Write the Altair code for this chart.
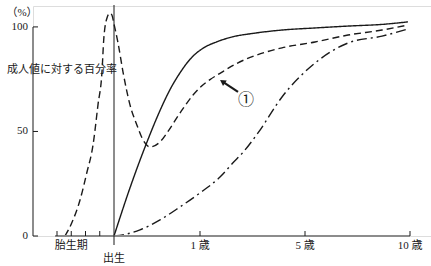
import altair as alt
import pandas as pd

# ---- data (age in years; prenatal period negative) ----
solid_x = [0, 0.19, 0.384, 0.535, 0.651, 0.767, 0.884, 1.114, 1.648, 2.257, 3.02, 4.124, 5.476, 7.048, 8.667, 9.905]
solid_y = [0, 23.5, 45, 60, 70, 78, 84.5, 89.8, 92.9, 95.3, 96.9, 98.5, 99.5, 100.4, 101.2, 102.4]

dash_x = [-0.86, -0.742, -0.596, -0.479, -0.368, -0.281, -0.211, -0.18, -0.123, -0.07, -0.035, 0.0,
          0.047, 0.105, 0.186, 0.267, 0.326, 0.419, 0.535, 0.616, 0.767, 0.919, 1.0, 1.381, 1.762,
          2.41, 3.171, 4.124, 5.476, 7.048, 8.667, 9.905]
dash_y = [0, 6.2, 17.2, 30, 43.5, 62.7, 78.4, 94, 104.3, 106.6, 105.6, 101.4,
          92.3, 78.4, 62.7, 53, 46.9, 42.6, 45, 49.3, 58.8, 67.4, 71, 74.8, 77.8,
          82.6, 86.6, 90, 92.8, 96.1, 98.5, 100.9]

dd_x = [0, 0.14, 0.302, 0.535, 0.767, 1.0, 1.762, 2.257, 2.638, 3.21, 4.124, 5.476, 7.048, 8.667, 9.905]
dd_y = [0, 0.9, 2.9, 7.7, 13.9, 20.6, 28.2, 35, 40, 49.3, 66.5, 82.7, 92.3, 95.6, 99]

y_ticks = [0, 50, 100]
y_tick_labels = ["0", "50", "100"]
x_ticks = [-1, -0.75, -0.5, -0.25, 1, 5, 10]
x_labels = ["胎生期", "1 歳", "5 歳", "10 歳"]
x_label_pos = [-0.75, 1, 5, 10]
birth_label = "出生"
y_title = "成人値に対する百分率"
unit_label = "（%）"
marker_label = "①"
arrow_tail = (2.448, 68.9)
arrow_head = (1.857, 73.8)
marker_pos = (2.75, 64.9)

FONT = "Liberation Serif, Noto Sans CJK JP"
INK = "#1a1a1a"
GRAY = "#8c8c8c"

xs = alt.Scale(domain=[-1, 0, 1, 5, 10], range=[24, 81, 167, 272, 377], zero=False, nice=False)
ys = alt.Scale(domain=[0, 110], zero=False, nice=False)

def X(f):
    return alt.X(f, type="quantitative", scale=xs, axis=None)

def Y(f):
    return alt.Y(f, type="quantitative", scale=ys, axis=None)

layers = []

styles = [(solid_x, solid_y, [1, 0]), (dash_x, dash_y, [7, 4]), (dd_x, dd_y, [10, 4, 2, 4])]
for sx, sy, dash in styles:
    df = pd.DataFrame({"x": sx, "y": sy})
    layers.append(
        alt.Chart(df).mark_line(color=INK, strokeWidth=1.4, strokeDash=dash, interpolate="monotone")
        .encode(x=X("x"), y=Y("y"))
    )

# y axis line
layers.append(
    alt.Chart(pd.DataFrame({"a": [0], "b": [100]})).mark_rule(color=GRAY, strokeWidth=2)
    .encode(x=alt.value(0), y=Y("a"), y2="b")
)
# y ticks (inward)
ydf = pd.DataFrame({"v": y_ticks, "t": y_tick_labels})
layers.append(
    alt.Chart(ydf).mark_rule(color=INK, strokeWidth=1)
    .encode(x=alt.value(0), x2=alt.value(5), y=Y("v"))
)
layers.append(
    alt.Chart(ydf).mark_text(font=FONT, fontSize=11, align="right", baseline="middle", color=INK)
    .encode(x=alt.value(-5), y=Y("v"), text="t:N")
)
# x axis line
layers.append(
    alt.Chart(pd.DataFrame({"a": [-1.035], "b": [10], "y": [0]})).mark_rule(color=GRAY, strokeWidth=2)
    .encode(x=X("a"), x2="b", y=Y("y"))
)
# x ticks (inward)
layers.append(
    alt.Chart(pd.DataFrame({"v": x_ticks})).mark_rule(color=INK, strokeWidth=1)
    .encode(x=X("v"), y=alt.value(230), y2=alt.value(225))
)
# x labels
layers.append(
    alt.Chart(pd.DataFrame({"v": x_label_pos, "t": x_labels}))
    .mark_text(font=FONT, fontSize=11, align="center", baseline="middle", color=INK)
    .encode(x=X("v"), y=alt.value(240), text="t:N")
)
# birth line
layers.append(
    alt.Chart(pd.DataFrame({"v": [0], "t": [birth_label]})).mark_rule(color=INK, strokeWidth=1)
    .encode(x=X("v"), y=alt.value(-1), y2=alt.value(239))
)
layers.append(
    alt.Chart(pd.DataFrame({"v": [0], "t": [birth_label]}))
    .mark_text(font=FONT, fontSize=11, align="center", baseline="middle", color=INK)
    .encode(x=X("v"), y=alt.value(252.5), text="t:N")
)
# titles
layers.append(
    alt.Chart(pd.DataFrame({"t": [unit_label]}))
    .mark_text(font=FONT, fontSize=11, align="center", baseline="middle", color=INK)
    .encode(x=alt.value(-11), y=alt.value(7), text="t:N")
)
layers.append(
    alt.Chart(pd.DataFrame({"t": [y_title]}))
    .mark_text(font=FONT, fontSize=11, align="left", baseline="middle", color=INK)
    .encode(x=alt.value(-26), y=alt.value(64), text="t:N")
)
# arrow
layers.append(
    alt.Chart(pd.DataFrame({"x": [arrow_tail[0]], "y": [arrow_tail[1]],
                            "x2": [arrow_head[0]], "y2": [arrow_head[1]]}))
    .mark_rule(color=INK, strokeWidth=2.2)
    .encode(x=X("x"), y=Y("y"), x2="x2", y2="y2")
)
layers.append(
    alt.Chart(pd.DataFrame({"x": [arrow_head[0]], "y": [arrow_head[1]]}))
    .mark_point(shape="triangle-up", filled=True, color=INK, size=45, angle=304, opacity=1)
    .encode(x=X("x"), y=Y("y"))
)
layers.append(
    alt.Chart(pd.DataFrame({"x": [marker_pos[0]], "y": [marker_pos[1]], "t": [marker_label]}))
    .mark_text(font="Noto Sans CJK JP", fontSize=16, align="center", baseline="middle", color=INK)
    .encode(x=X("x"), y=Y("y"), text="t:N")
)

chart = alt.layer(*layers).properties(
    width=398, height=230,
    autosize=alt.AutoSizeParams(type="none"),
    padding={"left": 33, "top": 6, "right": 0, "bottom": 30},
).configure_view(stroke=None).configure(background="white")

chart.save("out.html", embed_options={"renderer": "svg", "actions": False})
